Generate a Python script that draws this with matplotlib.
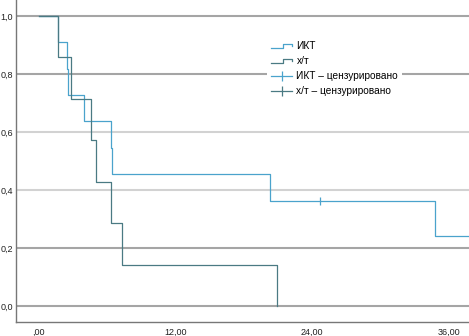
import numpy as np
import matplotlib
matplotlib.use("Agg")
import matplotlib.pyplot as plt
from matplotlib.lines import Line2D
from matplotlib.legend_handler import HandlerBase

plt.rcParams['font.family'] = ['Liberation Sans', 'DejaVu Sans']

# survival data (months), 1 = event, 0 = censored
ikt_time = [1.7, 2.45, 2.55, 3.95, 6.35, 6.45, 20.35, 24.7, 34.8, 40.0, 40.0]
ikt_event = [1, 1, 1, 1, 1, 1, 1, 0, 1, 0, 0]
xt_time = [1.7, 2.8, 4.6, 5.05, 6.35, 7.35, 20.9]
xt_event = [1, 1, 1, 1, 1, 1, 1]

group_names = ["ИКТ", "х/т"]
group_colors = ["#4aa3cc", "#4a7a83"]
x_ticks = [0, 12, 24, 36]
x_ticklabels = [",00", "12,00", "24,00", "36,00"]
y_ticks = [0.0, 0.2, 0.4, 0.6, 0.8, 1.0]
y_ticklabels = ["0,0", "0,2", "0,4", "0,6", "0,8", "1,0"]


def kaplan_meier(times, events):
    t = np.array(times, dtype=float)
    e = np.array(events, dtype=int)
    order = np.argsort(t, kind="stable")
    t, e = t[order], e[order]
    xs, ys = [0.0], [1.0]
    cens_x, cens_y = [], []
    s = 1.0
    at_risk = len(t)
    for ti, ei in zip(t, e):
        if ei:
            s *= (at_risk - 1) / at_risk
            xs.append(ti)
            ys.append(s)
        else:
            cens_x.append(ti)
            cens_y.append(s)
        at_risk -= 1
    xs.append(t.max())
    ys.append(s)
    return xs, ys, cens_x, cens_y


class HandlerStep(HandlerBase):
    def create_artists(self, legend, orig_handle, xdescent, ydescent,
                       width, height, fontsize, trans):
        x0, y0 = -xdescent, -ydescent
        xs = [x0, x0 + 0.55 * width, x0 + 0.55 * width, x0 + width, x0 + width]
        ys = [y0 + 0.1 * height, y0 + 0.1 * height, y0 + 0.75 * height,
              y0 + 0.75 * height, y0 + 0.5 * height]
        ln = Line2D(xs, ys, color=orig_handle.get_color(), lw=0.9, transform=trans)
        return [ln]


fig = plt.figure(figsize=(4.69, 3.36), dpi=100)
ax = fig.add_axes([16 / 469, 14 / 336, 1 - 16 / 469, 322 / 336])

ax.set_xlim(-2.0, 37.8)
ax.set_ylim(-0.055, 1.055)

ax.set_yticks(y_ticks)
ax.set_yticklabels(y_ticklabels)
ax.set_xticks(x_ticks)
ax.set_xticklabels(x_ticklabels)
ax.tick_params(length=0, labelsize=6.5, colors="#222222")
ax.tick_params(axis="x", pad=4)
ax.tick_params(axis="y", pad=2)

grid_colors = ["#a5a5a5", "#a5a5a5", "#d2d2d2", "#d2d2d2", "#a5a5a5", "#a5a5a5"]
for yv, gc in zip(y_ticks, grid_colors):
    ax.axhline(yv, color=gc, lw=1.5, zorder=0)

for sp in ["top", "right"]:
    ax.spines[sp].set_visible(False)
for sp in ["left", "bottom"]:
    ax.spines[sp].set_color("#777777")
    ax.spines[sp].set_linewidth(1.0)

handles = []
for name, times, events, col in zip(group_names, [ikt_time, xt_time],
                                    [ikt_event, xt_event], group_colors):
    xs, ys, cx, cy = kaplan_meier(times, events)
    ln, = ax.step(xs, ys, where="post", color=col, lw=0.9, zorder=3)
    ax.plot(cx, cy, linestyle="none", marker="|", markersize=6,
            color=col, markeredgewidth=0.9, zorder=4)
    handles.append(ln)

cens_handles = [Line2D([], [], color=c, lw=0.9, marker="|", markersize=7,
                       markeredgewidth=0.9) for c in group_colors]
labels = group_names + [g + " – цензурировано" for g in group_names]

leg = ax.legend(handles + cens_handles, labels,
                handler_map={handles[0]: HandlerStep(), handles[1]: HandlerStep()},
                loc="upper left", bbox_to_anchor=(267 / 469, 1 - 37 / 336),
                bbox_transform=fig.transFigure, fontsize=7.3,
                handlelength=2.1, handletextpad=0.4, labelspacing=0.5,
                borderpad=0.4, borderaxespad=0, frameon=True, fancybox=False)
leg.get_frame().set_edgecolor("none")
leg.get_frame().set_facecolor("white")
leg.get_frame().set_alpha(1)
leg.set_zorder(5)

fig.savefig("out.png", dpi=100)
